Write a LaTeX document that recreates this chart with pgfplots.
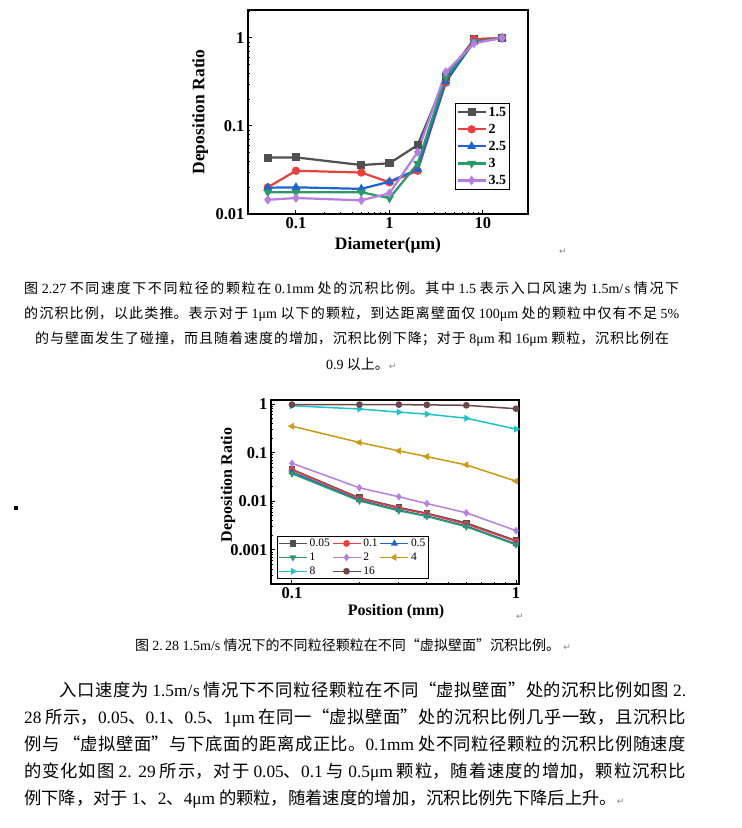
\documentclass[border=0pt]{standalone}
\usepackage{pgfplots}
\pgfplotsset{compat=1.18}
\usepackage{fontspec}
\setmainfont{Liberation Serif}
\newfontfamily\cjk{Noto Sans CJK SC}
\newfontfamily\djv{DejaVu Sans}
\XeTeXlinebreaklocale "zh"
\XeTeXlinebreakskip=0pt plus 6pt minus 0.6pt
\XeTeXlinebreakpenalty=10000
\newcommand\fs[1]{\fontsize{#1bp}{#1bp}\selectfont}
\newcommand\Lt[1]{{\rmfamily #1}}
\newcommand\ret{{\color{gray}\djv\fs{9}↵}}
% one justified line of page text, #1 = width
\newcommand\jline[2]{\parbox[b]{#1}{\noindent\tolerance=10000\parfillskip=0pt\relax #2\par}}

\definecolor{cgray}{HTML}{505050}
\definecolor{cred}{HTML}{E8403C}
\definecolor{cblue}{HTML}{1F63D0}
\definecolor{cgreen}{HTML}{2A9A68}
\definecolor{cpurple}{HTML}{B67EE0}
\definecolor{cgold}{HTML}{C99A12}
\definecolor{ccyan}{HTML}{1BC3C8}
\definecolor{cbrown}{HTML}{6B4848}

\begin{document}
\begin{tikzpicture}
\path[use as bounding box] (0,-828bp) rectangle (742bp,0);

% ---- chart 1: deposition ratio vs diameter
\begin{axis}[
  at={(248bp,-214bp)}, anchor=south west,
  scale only axis, width=280bp, height=204bp,
  xmode=log, ymode=log,
  xmin=0.0307, xmax=30.3, ymin=0.01, ymax=2.08,
  tick align=inside, xtick pos=bottom, ytick pos=left,
  axis line style={line width=2.2bp},
  major tick length=4bp, minor tick length=2.5bp,
  tick style={black, line width=1bp},
  xtick={0.1,1,10}, xticklabels={0.1,1,10}, minor xtick={},
  ytick={0.01,0.1,1}, yticklabels={0.01,0.1,1},
  minor ytick={0.02,0.03,0.04,0.05,0.06,0.07,0.08,0.09,0.2,0.3,0.4,0.5,0.6,0.7,0.8,0.9,2},
  tick label style={font=\fs{16.5}\bfseries},
  xlabel={Diameter(μm)}, ylabel={Deposition Ratio},
  label style={font=\fs{17.5}\bfseries},
  xlabel style={at={(axis description cs:0.5,-0.152)}, anchor=center},
  ylabel style={at={(axis description cs:-0.171,0.5)}, anchor=center},
  legend image code/.code={\draw[mark repeat=2,mark phase=2] plot coordinates {(0bp,0bp) (14bp,0bp) (28bp,0bp)};},
  legend style={at={(axis description cs:0.936,0.544)}, anchor=north east,
    draw=black, line width=0.8bp, font=\fs{14}\bfseries,
    inner sep=1.5bp, row sep=2.3bp, cells={anchor=west}},
  every axis plot/.append style={line width=2.2bp, mark size=3bp},
]
\addplot[cgray, mark=square*] coordinates {(0.05,0.0437) (0.1,0.044) (0.5,0.036) (1,0.0377) (2,0.0607) (4,0.36) (8,0.96) (16,1.0)};
\addplot[cred, mark=*] coordinates {(0.05,0.0201) (0.1,0.031) (0.5,0.0296) (1,0.0229) (2,0.031) (4,0.31) (8,0.97) (16,1.0)};
\addplot[cblue, mark=triangle*] coordinates {(0.05,0.0199) (0.1,0.0201) (0.5,0.0193) (1,0.0233) (2,0.0322) (4,0.32) (8,0.9) (16,1.0)};
\addplot[cgreen, mark=triangle*, mark options={rotate=180}] coordinates {(0.05,0.0177) (0.1,0.0177) (0.5,0.0177) (1,0.0151) (2,0.0374) (4,0.36) (8,0.9) (16,1.0)};
\addplot[cpurple, mark=diamond*] coordinates {(0.05,0.0145) (0.1,0.0152) (0.5,0.0143) (1,0.0172) (2,0.0506) (4,0.41) (8,0.87) (16,1.0)};
\legend{1.5,2,2.5,3,3.5}
\end{axis}

% ---- chart 2: deposition ratio vs position
\begin{axis}[
  at={(271bp,-584bp)}, anchor=south west,
  scale only axis, width=248bp, height=184bp,
  xmode=log, ymode=log,
  xmin=0.0806, xmax=1.031, ymin=0.0002, ymax=1.208,
  tick align=inside, xtick pos=bottom, ytick pos=left,
  axis line style={line width=2bp},
  major tick length=4bp, minor tick length=2.5bp,
  tick style={black, line width=1bp},
  xtick={0.1,1}, xticklabels={0.1,1}, minor xtick={},
  ytick={0.001,0.01,0.1,1}, yticklabels={0.001,0.01,0.1,1},
  minor ytick={0.0002,0.0003,0.0004,0.0005,0.0006,0.0007,0.0008,0.0009,0.002,0.003,0.004,0.005,0.006,0.007,0.008,0.009,0.02,0.03,0.04,0.05,0.06,0.07,0.08,0.09,0.2,0.3,0.4,0.5,0.6,0.7,0.8,0.9},
  tick label style={font=\fs{16.5}\bfseries},
  xlabel={Position (mm)}, ylabel={Deposition Ratio},
  label style={font=\fs{16}\bfseries},
  xlabel style={at={(axis description cs:0.504,-0.152)}, anchor=center},
  ylabel style={at={(axis description cs:-0.173,0.538)}, anchor=center},
  legend columns=3,
  legend image code/.code={\draw[mark repeat=2,mark phase=2] plot coordinates {(0bp,0bp) (14bp,0bp) (28bp,0bp)};},
  legend style={at={(axis description cs:0.024,0.027)}, anchor=south west,
    draw=black, line width=0.8bp, font=\fs{11.5},
    inner sep=0.8bp, row sep=0.8bp, column sep=0bp, cells={anchor=west}},
  every axis plot/.append style={line width=1.5bp, mark size=2.6bp},
]
\addplot[cgray, mark=square*] coordinates {(0.1,0.0455) (0.2,0.0118) (0.3,0.0075) (0.4,0.0057) (0.6,0.0036) (1,0.00156)};
\addplot[cred, mark=*] coordinates {(0.1,0.044) (0.2,0.0114) (0.3,0.0072) (0.4,0.0055) (0.6,0.0034) (1,0.0015)};
\addplot[cblue, mark=triangle*] coordinates {(0.1,0.040) (0.2,0.0106) (0.3,0.0066) (0.4,0.0050) (0.6,0.0031) (1,0.00133)};
\addplot[cgreen, mark=triangle*, mark options={rotate=180}] coordinates {(0.1,0.037) (0.2,0.0102) (0.3,0.0064) (0.4,0.0049) (0.6,0.0030) (1,0.00128)};
\addplot[cpurple, mark=diamond*] coordinates {(0.1,0.0605) (0.2,0.019) (0.3,0.0124) (0.4,0.0090) (0.6,0.0058) (1,0.0025)};
\addplot[cgold, mark=triangle*, mark options={rotate=90}] coordinates {(0.1,0.35) (0.2,0.162) (0.3,0.109) (0.4,0.083) (0.6,0.056) (1,0.026)};
\addplot[ccyan, mark=triangle*, mark options={rotate=-90}] coordinates {(0.1,0.92) (0.2,0.79) (0.3,0.68) (0.4,0.62) (0.6,0.51) (1,0.305)};
\addplot[cbrown, mark=*] coordinates {(0.1,0.97) (0.2,0.97) (0.3,0.97) (0.4,0.96) (0.6,0.94) (1,0.80)};
\legend{0.05,0.1,0.5,1,2,4,8,16}
\end{axis}

% ---- page text
\node at (563bp,-252bp) {\ret};
\node at (520bp,-617bp) {\ret};
\fill (14bp,-506bp) rectangle (18bp,-510bp);

\begin{scope}[every node/.style={inner sep=0pt}]
\node[anchor=base west] at (24bp,-293bp) {\cjk\fs{14}\jline{655bp}{图 \Lt{2.27} 不同速度下不同粒径的颗粒在 \Lt{0.1mm} 处的沉积比例。其中 \Lt{1.5} 表示入口风速为 \Lt{1.5m/s} 情况下}};
\node[anchor=base west] at (24bp,-318bp) {\cjk\fs{14}\jline{655bp}{的沉积比例，以此类推。表示对于 \Lt{1μm} 以下的颗粒，到达距离壁面仅 \Lt{100μm} 处的颗粒中仅有不足 \Lt{5\%}}};
\node[anchor=base west] at (35bp,-343bp) {\cjk\fs{14}\jline{634bp}{的与壁面发生了碰撞，而且随着速度的增加，沉积比例下降；对于 \Lt{8μm} 和 \Lt{16μm} 颗粒，沉积比例在}};
\node[anchor=base west] at (326bp,-369bp) {\cjk\fs{14}\Lt{0.9} 以上。\ret};

\node[anchor=base west] at (135bp,-650bp) {\cjk\fs{14}\jline{425bp}{图 \Lt{2.\,28 1.5m/s} 情况下的不同粒径颗粒在不同“虚拟壁面”沉积比例。}\ \ret};

\node[anchor=base west] at (59bp,-696bp) {\cjk\fs{17.3}\jline{627bp}{入口速度为 \Lt{1.5m/s} 情况下不同粒径颗粒在不同“虚拟壁面”处的沉积比例如图 \Lt{2.}}};
\node[anchor=base west] at (24bp,-723bp) {\cjk\fs{17.3}\jline{662bp}{\Lt{28} 所示，\Lt{0.05}、\Lt{0.1}、\Lt{0.5}、\Lt{1μm} 在同一“虚拟壁面”处的沉积比例几乎一致，且沉积比}};
\node[anchor=base west] at (24bp,-750bp) {\cjk\fs{17.3}\jline{662bp}{例与 “虚拟壁面”与下底面的距离成正比。\Lt{0.1mm} 处不同粒径颗粒的沉积比例随速度}};
\node[anchor=base west] at (24bp,-777bp) {\cjk\fs{17.3}\jline{662bp}{的变化如图 \Lt{2. 29} 所示，对于 \Lt{0.05}、\Lt{0.1} 与 \Lt{0.5μm} 颗粒，随着速度的增加，颗粒沉积比}};
\node[anchor=base west] at (24bp,-804bp) {\cjk\fs{17.3}例下降，对于 \Lt{1}、\Lt{2}、\Lt{4μm} 的颗粒，随着速度的增加，沉积比例先下降后上升。\ret};
\end{scope}
\end{tikzpicture}
\end{document}
